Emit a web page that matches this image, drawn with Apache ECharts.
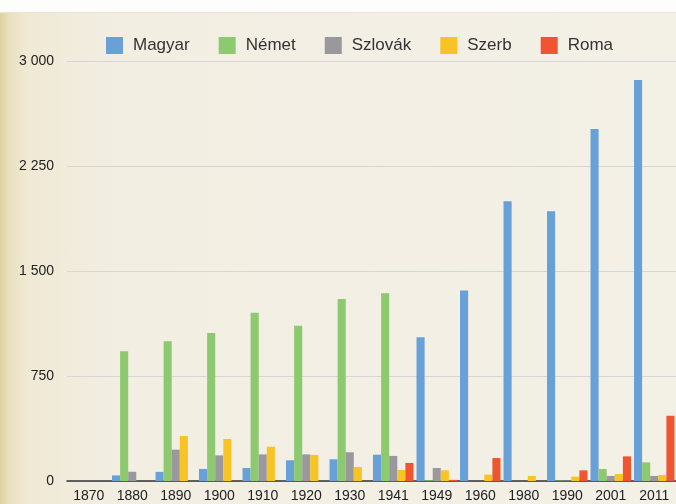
<!DOCTYPE html>
<html>
<head>
<meta charset="utf-8">
<script src="https://cdn.jsdelivr.net/npm/echarts@6/dist/echarts.min.js"></script>
<style>
html,body{margin:0;padding:0;}
body{width:676px;height:504px;overflow:hidden;
 background:linear-gradient(to right,#ddd19e 0px,#e9e0bd 9px,#efe9d4 26px,#f2eee2 120px,#f3f0e6 100%);}
#top{position:absolute;left:0;top:0;width:676px;height:12px;background:#fdfdfb;border-bottom:1px solid #e8e4d6;}
#c{position:absolute;left:0;top:0;width:676px;height:504px;}
</style>
</head>
<body>
<div id="top"></div>
<div id="c"></div>
<script>
const categories = ['1870','1880','1890','1900','1910','1920','1930','1941','1949','1960','1980','1990','2001','2011'];
const magyar  = [0, 40, 65, 86, 93, 148, 155, 188, 1027, 1360, 1998, 1926, 2514, 2864];
const nemet   = [0, 927, 998, 1058, 1202, 1109, 1300, 1341, 5, 0, 0, 3, 86, 133];
const szlovak = [0, 66, 224, 183, 190, 190, 205, 179, 93, 0, 0, 3, 36, 36];
const szerb   = [0, 0, 321, 300, 245, 186, 100, 79, 76, 45, 36, 31, 50, 43];
const roma    = [0, 0, 0, 0, 0, 0, 0, 129, 8, 164, 0, 76, 176, 466];
const seriesNames = ['Magyar','Német','Szlovák','Szerb','Roma'];
const seriesData = [magyar, nemet, szlovak, szerb, roma];
const colors = ['#68a0d8','#8dc96f','#99989d','#f8c325','#ef5531'];

const chart = echarts.init(document.getElementById('c'));
chart.setOption({
  backgroundColor: 'transparent',
  animation: false,
  color: colors,
  legend: {
    top: 37,
    left: 106,
    padding: 0,
    itemWidth: 17,
    itemHeight: 17,
    itemGap: 29,
    icon: 'rect',
    textStyle: {fontFamily: 'Liberation Sans, Arial, sans-serif', fontSize: 17, color: '#333', padding: [0, 0, 0, 5]},
    data: seriesNames
  },
  grid: {left: 67, right: 0, top: 61, bottom: 23, containLabel: false},
  xAxis: {
    type: 'category',
    data: categories,
    axisLine: {lineStyle: {color: '#333', width: 1.5}},
    axisTick: {show: false},
    axisLabel: {color: '#222', fontSize: 14, fontFamily: 'Liberation Sans, Arial, sans-serif', margin: 8}
  },
  yAxis: {
    type: 'value',
    min: 0, max: 3000, interval: 750,
    axisLine: {show: false},
    axisTick: {show: false},
    splitLine: {lineStyle: {color: '#d6d6d8', width: 1}},
    axisLabel: {
      color: '#222', fontSize: 14, fontFamily: 'Liberation Sans, Arial, sans-serif', margin: 13,
      formatter: v => String(v).replace(/\B(?=(\d{3})+(?!\d))/g, ' ')
    }
  },
  series: seriesData.map((d, i) => ({
    name: seriesNames[i],
    type: 'bar',
    data: d,
    barGap: '0%',
    barCategoryGap: '7%'
  }))
});
</script>
</body>
</html>
